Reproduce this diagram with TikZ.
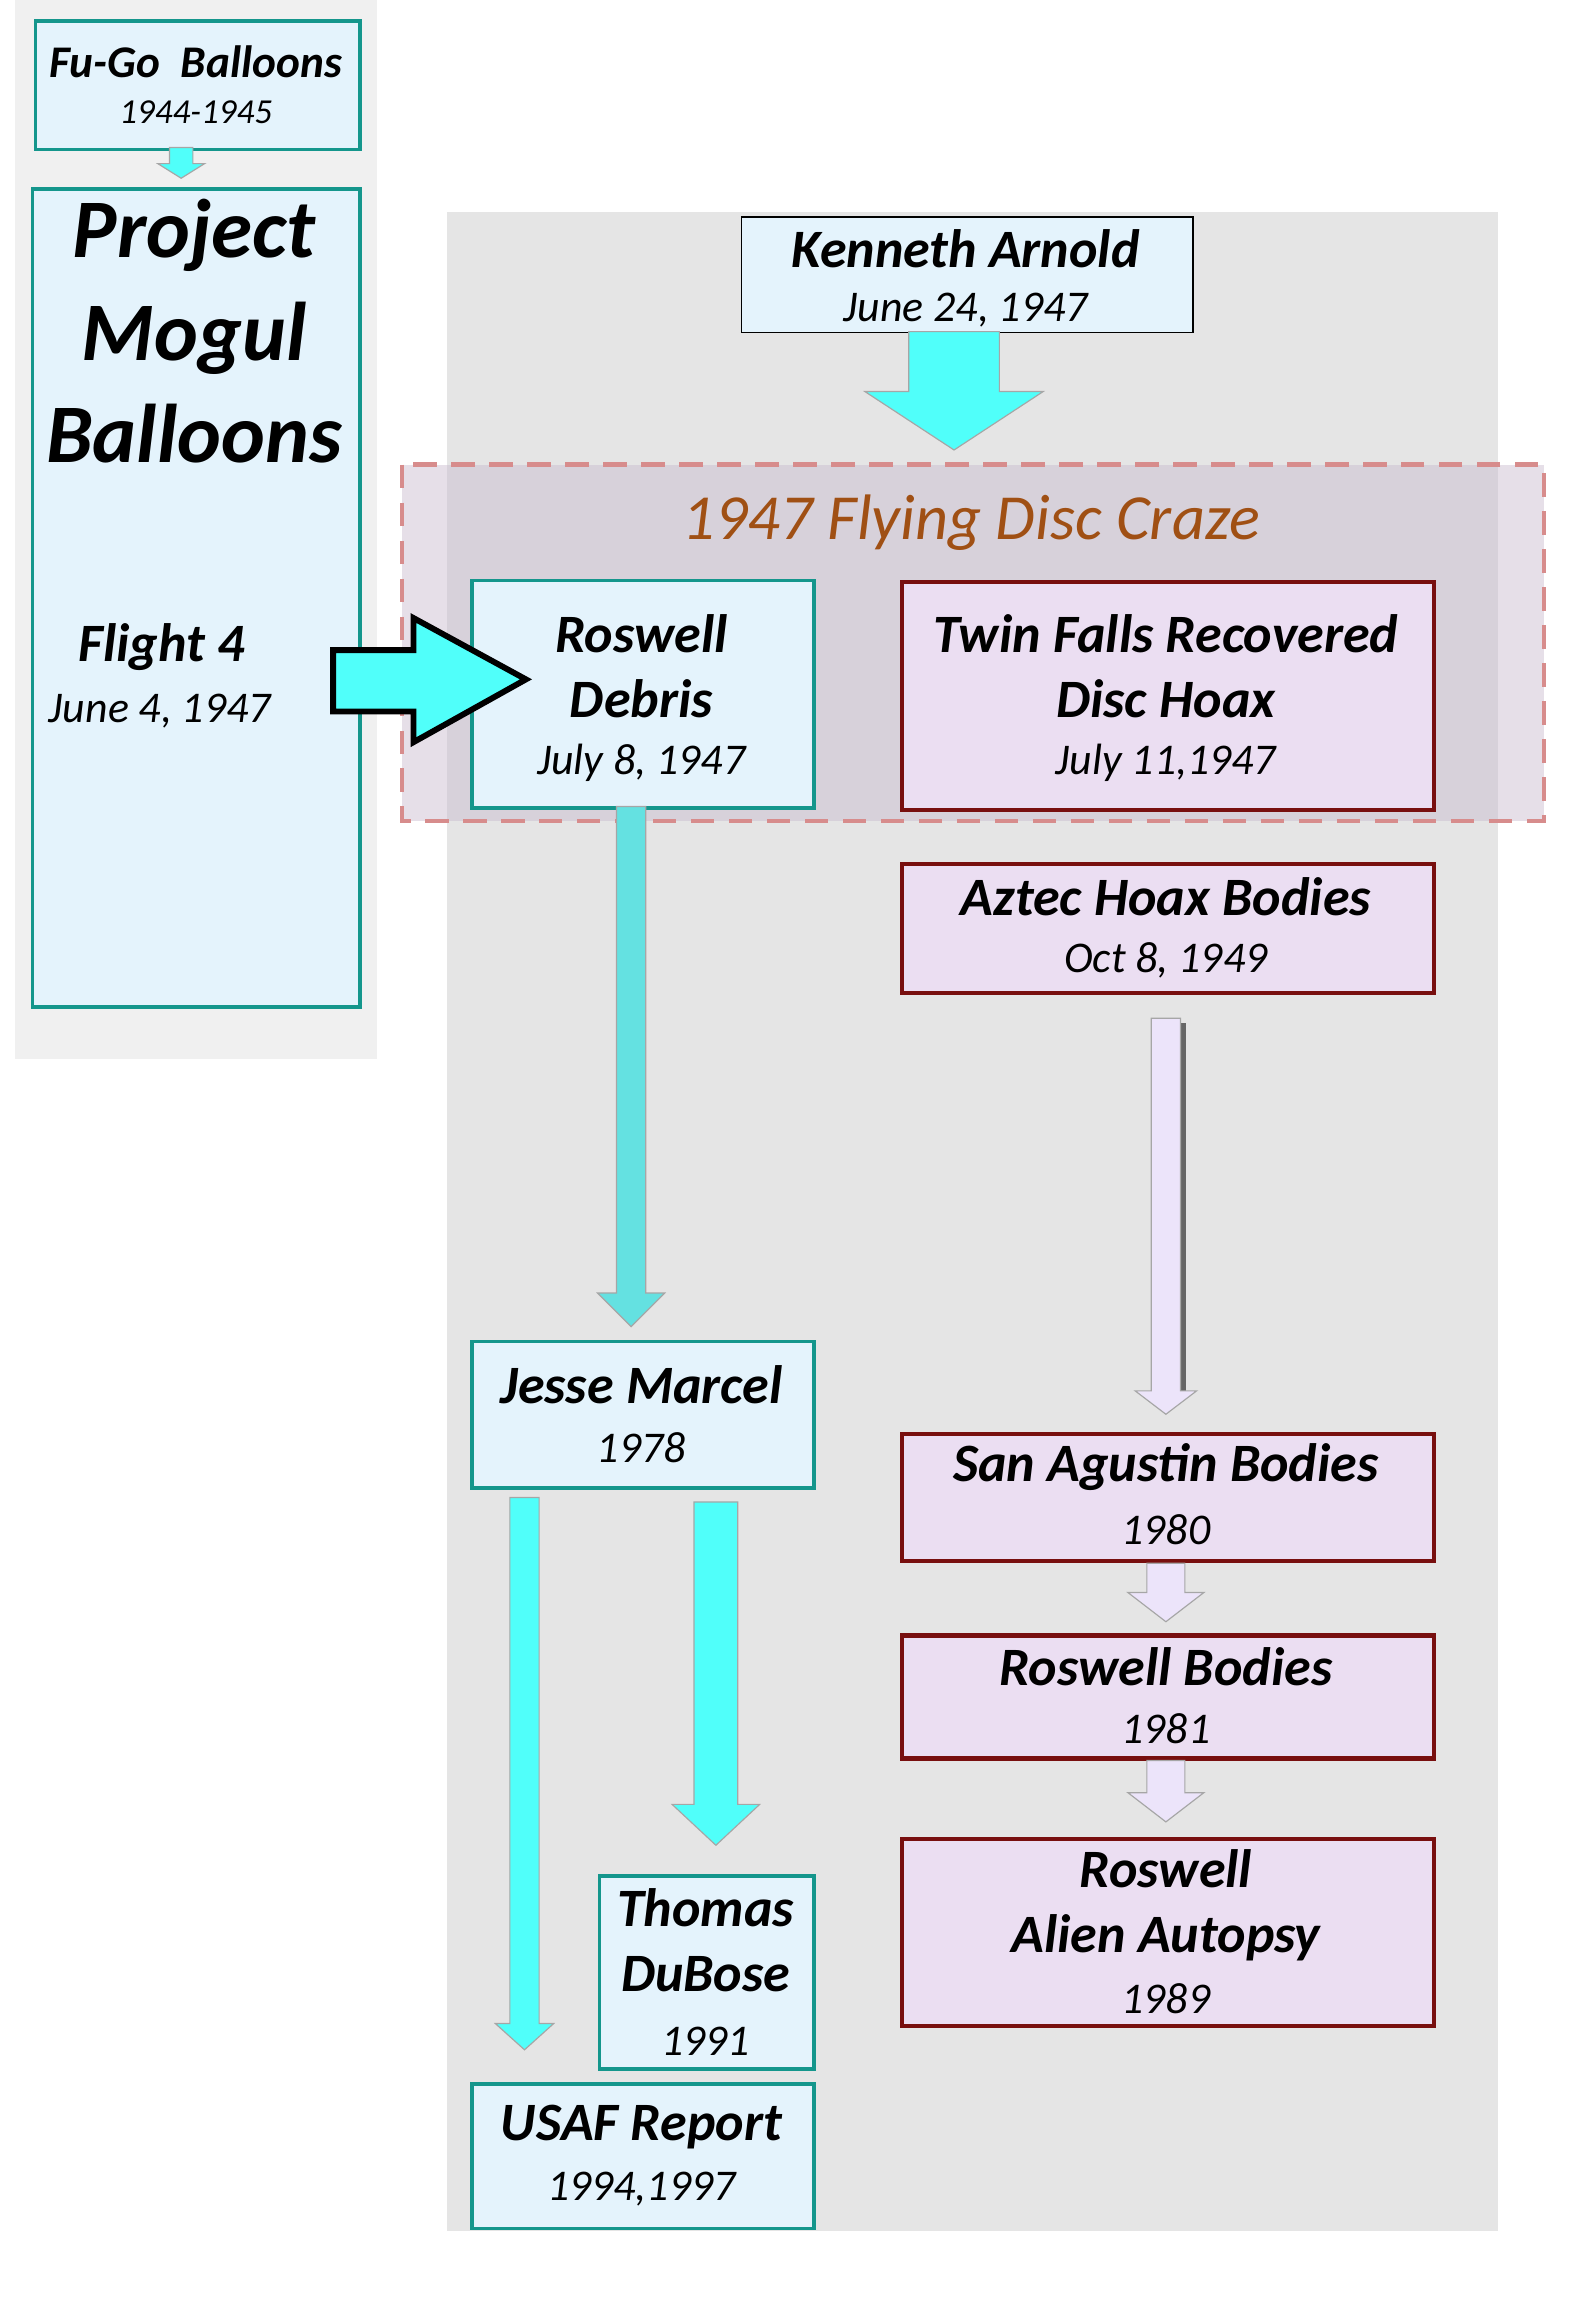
\documentclass[tikz,border=0pt]{standalone}
\usepackage{fontspec}
\setmainfont{Carlito}
\definecolor{aqua}{RGB}{80,255,250}
\definecolor{aquad}{RGB}{100,225,225}
\definecolor{lblue}{RGB}{228,243,252}
\definecolor{tealb}{RGB}{20,150,140}
\definecolor{lav}{RGB}{235,222,242}
\definecolor{lavar}{RGB}{236,228,250}
\definecolor{darkred}{RGB}{120,15,15}
\definecolor{craze}{RGB}{200,185,205}
\definecolor{dashc}{RGB}{215,140,140}
\definecolor{brown1}{RGB}{160,80,20}
\begin{document}
\begin{tikzpicture}[x=1pt,y=-1pt,
  bbox/.style={draw=tealb,line width=2.5pt,fill=lblue,align=center,inner sep=0pt,anchor=north west},
  rbox/.style={draw=darkred,line width=3pt,fill=lav,align=center,inner sep=0pt,anchor=north west},
  ttl/.style={font=\fontsize{37}{44}\selectfont\bfseries\itshape},
  dt/.style={font=\fontsize{30}{36}\selectfont\itshape}]
\useasboundingbox (0,0) rectangle (1080,1577);
\fill[gray!12] (10,0) rectangle (258,725);
\fill[gray!20] (306,145) rectangle (1025,1527);
\newcommand{\varrow}[7]{\fill[#7,draw=gray!70,line width=0.8pt] (#1-#4,#2)--(#1+#4,#2)--(#1+#4,#3)--(#1+#5,#3)--(#1,#3+#6)--(#1-#5,#3)--(#1-#4,#3)--cycle;}
% left panel
\node[bbox,minimum width=222,minimum height=88] (fugo) at (23,13) {};
\node[font=\fontsize{31}{34}\selectfont\bfseries\itshape] (fugot) at (134,42) {Fu-Go\ \ Balloons};
\node[font=\fontsize{24}{28}\selectfont\itshape] (fugod) at (134,77) {1944-1945};
\varrow{124}{101}{112}{8}{16}{10}{aqua}
\node[bbox,minimum width=224,minimum height=560] (mogul) at (21,128) {};
\node[font=\fontsize{57}{70}\selectfont\bfseries\itshape,align=center,anchor=north] (mogt) at (133,133) {Project\\Mogul\\Balloons};
\node[ttl,anchor=west] (fl4) at (50,443) {Flight 4};
\node[dt,anchor=west] (fl4d) at (30,487) {June 4, 1947};
% Kenneth
\node[draw=black,line width=1pt,fill=lblue,minimum width=309,minimum height=79,anchor=north west] (ka) at (507,148) {};
\node[ttl] at (661,170) {Kenneth Arnold};
\node[dt] at (661,212) {June 24, 1947};
\varrow{653}{227}{268}{31}{61}{40}{aqua}
% craze region
\fill[craze,opacity=0.45] (275,318) rectangle (1057,562);
\draw[dashc,line width=3pt,dash pattern=on 16pt off 10pt] (275,318) rectangle (1057,562);
\node[font=\fontsize{44}{50}\selectfont\itshape,text=brown1] (craze) at (665,358) {1947 Flying Disc Craze};
\node[bbox,minimum width=234,minimum height=156] (rd) at (322,396) {};
\node[ttl,align=center] at (439,456) {Roswell\\Debris};
\node[dt] at (439,522) {July 8, 1947};
\node[rbox,minimum width=364,minimum height=156] (tf) at (616,397) {};
\node[ttl,align=center] at (798,456) {Twin Falls Recovered\\Disc Hoax};
\node[dt] at (798,522) {July 11,1947};
% flight arrow
\fill[aqua,draw=black,line width=4pt,line join=miter] (228,445)--(283,445)--(283,423)--(360,465)--(283,508)--(283,487)--(228,487)--cycle;
% aztec
\node[rbox,minimum width=364,minimum height=88] (az) at (616,590) {};
\node[ttl] at (798,614) {Aztec Hoax Bodies};
\node[dt] at (798,657) {Oct 8, 1949};
\varrow{432}{552}{885}{10}{23}{23}{aquad}
\fill[black!60] (806,700) rectangle (812,955);
\varrow{798}{697}{952}{10}{21}{16}{lavar}
% Jesse
\node[bbox,minimum width=234,minimum height=100] (jm) at (322,917) {};
\node[ttl] at (439,948) {Jesse Marcel};
\node[dt] at (439,991) {1978};
\varrow{359}{1025}{1385}{10}{20}{18}{aqua}
\varrow{490}{1028}{1235}{15}{30}{28}{aqua}
\node[bbox,minimum width=147,minimum height=132] (td) at (409,1283) {};
\node[ttl,align=center] at (483,1328) {Thomas\\DuBose};
\node[dt] at (483,1397) {1991};
\node[bbox,minimum width=234,minimum height=99] (us) at (322,1425) {};
\node[ttl] at (439,1456) {USAF Report};
\node[dt] at (439,1498) {1994,1997};
% right column
\node[rbox,minimum width=364,minimum height=87] (sa) at (616,980) {};
\node[ttl] at (798,1004) {San Agustin Bodies};
\node[dt] at (798,1047) {1980};
\varrow{798}{1070}{1090}{13}{26}{20}{lavar}
\node[rbox,minimum width=364,minimum height=84] (rb) at (616,1118) {};
\node[ttl] at (798,1141) {Roswell Bodies};
\node[dt] at (798,1183) {1981};
\varrow{798}{1205}{1227}{13}{26}{20}{lavar}
\node[rbox,minimum width=364,minimum height=128] (aa) at (616,1257) {};
\node[ttl,align=center] at (798,1304) {Roswell\\Alien Autopsy};
\node[dt] at (798,1368) {1989};
\end{tikzpicture}
\end{document}
